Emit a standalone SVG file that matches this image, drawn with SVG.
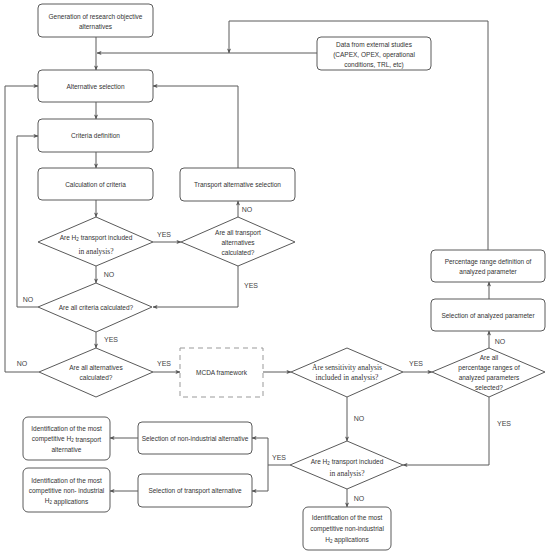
<svg xmlns="http://www.w3.org/2000/svg" width="550" height="553" viewBox="0 0 550 553">
<defs>
<marker id="ah" viewBox="0 0 6 6" refX="5.5" refY="3" markerWidth="5" markerHeight="5" orient="auto" markerUnits="userSpaceOnUse">
<path d="M0,0.5 L6,3 L0,5.5 L1.5,3 Z" fill="#555"/>
</marker>
<style>
.box{fill:#fff;stroke:#5a5a5a;stroke-width:1}
.dash{fill:#fff;stroke:#999;stroke-width:1;stroke-dasharray:5,4}
.t{font-family:"Liberation Sans",Arial,sans-serif;font-size:6.5px;fill:#333;text-anchor:middle;dominant-baseline:central}
.s{font-family:"Liberation Serif","Times New Roman",serif;font-size:7.5px;fill:#333;text-anchor:middle;dominant-baseline:central}
.lbl{font-family:"Liberation Sans",Arial,sans-serif;font-size:7px;fill:#444;text-anchor:middle;dominant-baseline:central}
.c{fill:none;stroke:#5a5a5a;stroke-width:1}
.a{marker-end:url(#ah)}
</style>
</defs>
<rect width="550" height="553" fill="#fff"/>

<g id="connectors">
<path class="c a" d="M96,37 V70"/>
<path class="c a" d="M317,53 H97"/>
<path class="c a" d="M488,250 V21 H229 V53"/>
<path class="c a" d="M96,102 V119"/>
<path class="c a" d="M96,152 V168"/>
<path class="c a" d="M96,200 V217"/>
<path class="c a" d="M153,242 H181"/>
<path class="c a" d="M238,217 V201"/>
<path class="c a" d="M238,168 V86 H153"/>
<path class="c a" d="M238,266 V307 H153"/>
<path class="c a" d="M96,266 V283"/>
<path class="c a" d="M38,307 H17 V136 H38"/>
<path class="c a" d="M96,332 V348"/>
<path class="c a" d="M39,372 H5 V86 H38"/>
<path class="c a" d="M153,372 H180"/>
<path class="c a" d="M263,372 H291"/>
<path class="c a" d="M403,372 H432"/>
<path class="c a" d="M489,348 V331"/>
<path class="c a" d="M489,299 V282"/>
<path class="c a" d="M489,397 V465 H403"/>
<path class="c a" d="M347,397 V441"/>
<path class="c a" d="M347,489 V507"/>
<path class="c" d="M290,465 H268 M268,438 V491"/>
<path class="c a" d="M268,438 H252"/>
<path class="c a" d="M268,491 H252"/>
<path class="c a" d="M138,438 H110"/>
<path class="c a" d="M138,491 H110"/>
<text class="lbl" x="164" y="234">YES</text>
<text class="lbl" x="247" y="209">NO</text>
<text class="lbl" x="251" y="285">YES</text>
<text class="lbl" x="109" y="274">NO</text>
<text class="lbl" x="28" y="299">NO</text>
<text class="lbl" x="111" y="339">YES</text>
<text class="lbl" x="22" y="363">NO</text>
<text class="lbl" x="164" y="363">YES</text>
<text class="lbl" x="416" y="363">YES</text>
<text class="lbl" x="500" y="341">NO</text>
<text class="lbl" x="504" y="423">YES</text>
<text class="lbl" x="359" y="418">NO</text>
<text class="lbl" x="359" y="498">NO</text>
<text class="lbl" x="279" y="457">YES</text>
</g>

<g id="gen">
<rect class="box" x="38" y="4" width="115" height="33" rx="4"/>
<text class="t" x="95.5" y="16">Generation of research objective</text>
<text class="t" x="95.5" y="26">alternatives</text>
</g>
<g id="data">
<rect class="box" x="317" y="37" width="114" height="33" rx="4"/>
<text class="t" x="374" y="44">Data from external studies</text>
<text class="t" x="374" y="54">(CAPEX, OPEX, operational</text>
<text class="t" x="374" y="64">conditions, TRL, etc)</text>
</g>
<g id="altsel">
<rect class="box" x="38" y="70" width="115" height="32" rx="4"/>
<text class="t" x="95.5" y="86">Alternative selection</text>
</g>
<g id="critdef">
<rect class="box" x="38" y="119" width="115" height="33" rx="4"/>
<text class="t" x="95.5" y="135.5">Criteria definition</text>
</g>
<g id="calc">
<rect class="box" x="38" y="168" width="115" height="32" rx="4"/>
<text class="t" x="95.5" y="184">Calculation of criteria</text>
</g>
<g id="tas">
<rect class="box" x="180" y="168" width="115" height="33" rx="4"/>
<text class="t" x="237.5" y="184.5">Transport alternative selection</text>
</g>
<g id="d1">
<polygon class="box" points="96,217 153,242 96,266 38,242"/>
<text class="t" x="96" y="237">Are H<tspan font-size="4.5" dy="1.5">2</tspan><tspan dy="-1.5"> transport included</tspan></text>
<text class="s" x="96" y="251">in analysis?</text>
</g>
<g id="d2">
<polygon class="box" points="238,217 295,242 238,266 181,242"/>
<text class="t" x="238" y="232">Are all transport</text>
<text class="t" x="238" y="242">alternatives</text>
<text class="t" x="238" y="252">calculated?</text>
</g>
<g id="d3">
<polygon class="box" points="96,283 152,307 96,332 38,307"/>
<text class="t" x="96" y="307">Are all criteria calculated?</text>
</g>
<g id="d4">
<polygon class="box" points="96,348 153,372 96,397 39,372"/>
<text class="t" x="96" y="367">Are all alternatives</text>
<text class="t" x="96" y="377">calculated?</text>
</g>
<g id="mcda">
<rect class="dash" x="180" y="348" width="83" height="49"/>
<text class="t" x="221.5" y="372.5">MCDA framework</text>
</g>
<g id="d5">
<polygon class="box" points="347,348 403,372 347,397 291,372"/>
<text class="s" x="347" y="367" font-size="7">Are sensitivity analysis</text>
<text class="s" x="347" y="377.5" font-size="7">included in analysis?</text>
</g>
<g id="d6">
<polygon class="box" points="489,348 545,372 489,397 432,372"/>
<text class="t" x="489" y="357">Are all</text>
<text class="t" x="489" y="367">percentage ranges of</text>
<text class="t" x="489" y="377">analyzed parameters</text>
<text class="t" x="489" y="387">selected?</text>
</g>
<g id="sap">
<rect class="box" x="431" y="299" width="114" height="32" rx="4"/>
<text class="t" x="488" y="315">Selection of analyzed parameter</text>
</g>
<g id="prd">
<rect class="box" x="431" y="250" width="114" height="32" rx="4"/>
<text class="t" x="488" y="261">Percentage range definition of</text>
<text class="t" x="488" y="271">analyzed parameter</text>
</g>
<g id="d7">
<polygon class="box" points="347,441 403,465 347,489 290,465"/>
<text class="t" x="347" y="461">Are H<tspan font-size="4.5" dy="1.5">2</tspan><tspan dy="-1.5"> transport included</tspan></text>
<text class="s" x="347" y="473.5">in analysis?</text>
</g>
<g id="idnonind">
<rect class="box" x="303" y="507" width="88" height="43" rx="5"/>
<text class="t" x="347" y="517.5">Identification of the most</text>
<text class="t" x="347" y="528.5">competitive non-industrial</text>
<text class="t" x="347" y="539">H<tspan font-size="4.5" dy="1.5">2</tspan><tspan dy="-1.5"> applications</tspan></text>
</g>
<g id="sna">
<rect class="box" x="138" y="422" width="114" height="32" rx="4"/>
<text class="t" x="195" y="438">Selection of non-industrial alternative</text>
</g>
<g id="sta">
<rect class="box" x="138" y="474" width="114" height="33" rx="4"/>
<text class="t" x="195" y="490.5">Selection of transport alternative</text>
</g>
<g id="idtrans">
<rect class="box" x="23" y="417" width="87" height="43" rx="5"/>
<text class="t" x="66.5" y="428">Identification of the most</text>
<text class="t" x="66.5" y="438.5">competitive H<tspan font-size="4.5" dy="1.5">2</tspan><tspan dy="-1.5"> transport</tspan></text>
<text class="t" x="66.5" y="449">alternative</text>
</g>
<g id="idnonind2">
<rect class="box" x="23" y="468" width="87" height="44" rx="5"/>
<text class="t" x="66.5" y="480.5">Identification of the most</text>
<text class="t" x="66.5" y="490.5">competitive non- industrial</text>
<text class="t" x="66.5" y="500.5">H<tspan font-size="4.5" dy="1.5">2</tspan><tspan dy="-1.5"> applications</tspan></text>
</g>
</svg>
